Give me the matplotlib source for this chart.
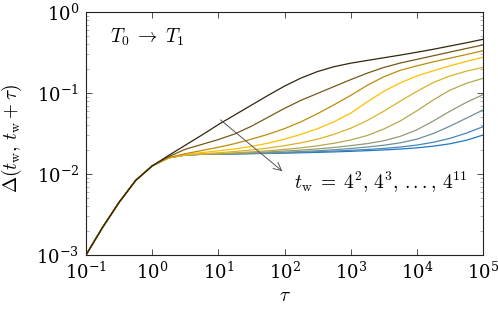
import numpy as np
import matplotlib
matplotlib.use("Agg")
import matplotlib.pyplot as plt
from matplotlib.ticker import LogLocator, NullLocator, NullFormatter

plt.rcParams['mathtext.fontset'] = 'cm'
plt.rcParams['font.family'] = ['DejaVu Serif']

log_tau = [-1.0, -0.75, -0.5, -0.25, 0.0, 0.25, 0.5, 0.75, 1.0, 1.25, 1.5, 1.75,
           2.0, 2.25, 2.5, 2.75, 3.0, 3.25, 3.5, 3.75, 4.0, 4.25, 4.5, 4.75, 5.0]

# common short-time part (log10 Delta), tau = 0.1 ... 1
log_delta_short = [-3.0, -2.66, -2.35, -2.08, -1.90]

# log10 Delta for tau = 10^0.25 ... 10^5, one list per waiting time
log_delta_tw_4_2 = [-1.77, -1.645, -1.52, -1.39, -1.27, -1.15, -1.03, -0.915, -0.815, -0.735,
                    -0.675, -0.632, -0.598, -0.565, -0.532, -0.497, -0.46, -0.42, -0.38, -0.337]
log_delta_tw_4_3 = [-1.785, -1.695, -1.635, -1.575, -1.505, -1.41, -1.30, -1.19, -1.09, -1.005,
                    -0.92, -0.835, -0.755, -0.685, -0.63, -0.585, -0.54, -0.495, -0.45, -0.407]
log_delta_tw_4_4 = [-1.795, -1.75, -1.71, -1.67, -1.625, -1.57, -1.51, -1.44, -1.355, -1.255,
                    -1.145, -1.03, -0.905, -0.80, -0.72, -0.665, -0.615, -0.57, -0.525, -0.478]
log_delta_tw_4_5 = [-1.80, -1.76, -1.735, -1.715, -1.69, -1.66, -1.62, -1.57, -1.51, -1.44,
                    -1.355, -1.25, -1.11, -0.98, -0.875, -0.79, -0.725, -0.665, -0.61, -0.559]
log_delta_tw_4_6 = [-1.80, -1.765, -1.75, -1.738, -1.722, -1.703, -1.68, -1.65, -1.615, -1.57,
                    -1.51, -1.435, -1.34, -1.225, -1.10, -0.98, -0.87, -0.79, -0.73, -0.683]
log_delta_tw_4_7 = [-1.80, -1.765, -1.755, -1.748, -1.738, -1.727, -1.713, -1.697, -1.677, -1.652,
                    -1.62, -1.58, -1.525, -1.445, -1.345, -1.22, -1.085, -0.965, -0.88, -0.819]
log_delta_tw_4_8 = [-1.80, -1.765, -1.757, -1.752, -1.746, -1.738, -1.728, -1.717, -1.705, -1.69,
                    -1.672, -1.65, -1.625, -1.59, -1.535, -1.455, -1.345, -1.225, -1.115, -1.02]
log_delta_tw_4_9 = [-1.80, -1.765, -1.757, -1.753, -1.749, -1.744, -1.738, -1.731, -1.723, -1.713,
                    -1.70, -1.685, -1.667, -1.645, -1.615, -1.57, -1.50, -1.41, -1.31, -1.21]
log_delta_tw_4_10 = [-1.80, -1.765, -1.757, -1.754, -1.751, -1.747, -1.743, -1.738, -1.732, -1.725,
                     -1.717, -1.708, -1.697, -1.684, -1.667, -1.643, -1.608, -1.56, -1.495, -1.416]
log_delta_tw_4_11 = [-1.80, -1.765, -1.757, -1.755, -1.752, -1.749, -1.746, -1.742, -1.738, -1.733,
                     -1.727, -1.72, -1.712, -1.703, -1.692, -1.677, -1.656, -1.627, -1.583, -1.519]

series = [log_delta_tw_4_2, log_delta_tw_4_3, log_delta_tw_4_4, log_delta_tw_4_5,
          log_delta_tw_4_6, log_delta_tw_4_7, log_delta_tw_4_8, log_delta_tw_4_9,
          log_delta_tw_4_10, log_delta_tw_4_11]

colors = ['#33260f', '#76591a', '#bb8c0c', '#ffbf00', '#d9b426',
          '#b4a84c', '#8f9c72', '#6a9198', '#4585be', '#1f78c0']

fig = plt.figure(figsize=(4.98, 3.09), dpi=100)
ax = fig.add_axes([86/498, 1-255/309, (483-86)/498, (255-12)/309])

tau = 10.0 ** np.array(log_tau)
for s, c in zip(series[::-1], colors[::-1]):
    y = 10.0 ** np.array(log_delta_short + s)
    ax.plot(tau, y, color=c, lw=0.9, solid_capstyle='round', solid_joinstyle='round')

ax.set_xscale('log')
ax.set_yscale('log')
ax.set_xlim(1e-1, 1e5)
ax.set_ylim(1e-3, 1e0)

ax.xaxis.set_major_locator(LogLocator(base=10, numticks=10))
ax.xaxis.set_minor_locator(NullLocator())
ax.yaxis.set_major_locator(LogLocator(base=10, numticks=10))
ax.yaxis.set_minor_locator(LogLocator(base=10, subs=np.arange(2, 10), numticks=10))
ax.yaxis.set_minor_formatter(NullFormatter())

ax.tick_params(which='both', direction='in', top=True, right=True, labelsize=13,
               color='#333333', width=0.6)
ax.tick_params(which='major', length=4, pad=5)
ax.tick_params(which='minor', length=2, color='#999999', width=0.5)
for sp in ax.spines.values():
    sp.set_linewidth(0.8)
    sp.set_color('#222222')

ax.set_xlabel(r'$\tau$', fontsize=14, labelpad=3)
ax.set_ylabel(r'$\Delta(t_\mathrm{w},\, t_\mathrm{w}+\tau)$', fontsize=14)
ax.yaxis.set_label_coords(-0.155, 0.48)

ax.text(0.06, 0.895, r'$T_0 \;\rightarrow\; T_1$', transform=ax.transAxes,
        fontsize=14, ha='left', va='center')
ax.annotate('', xy=(100, 0.0103), xytext=(10, 0.049),
            arrowprops=dict(arrowstyle='->', color='#555555', lw=0.7,
                            mutation_scale=14))
ax.text(140, 0.0078, r'$t_\mathrm{w}\;=\;4^2,\, 4^3,\, \mathrm{...},\, 4^{11}$', fontsize=14,
        ha='left', va='center')

fig.savefig('out.png', dpi=100)
